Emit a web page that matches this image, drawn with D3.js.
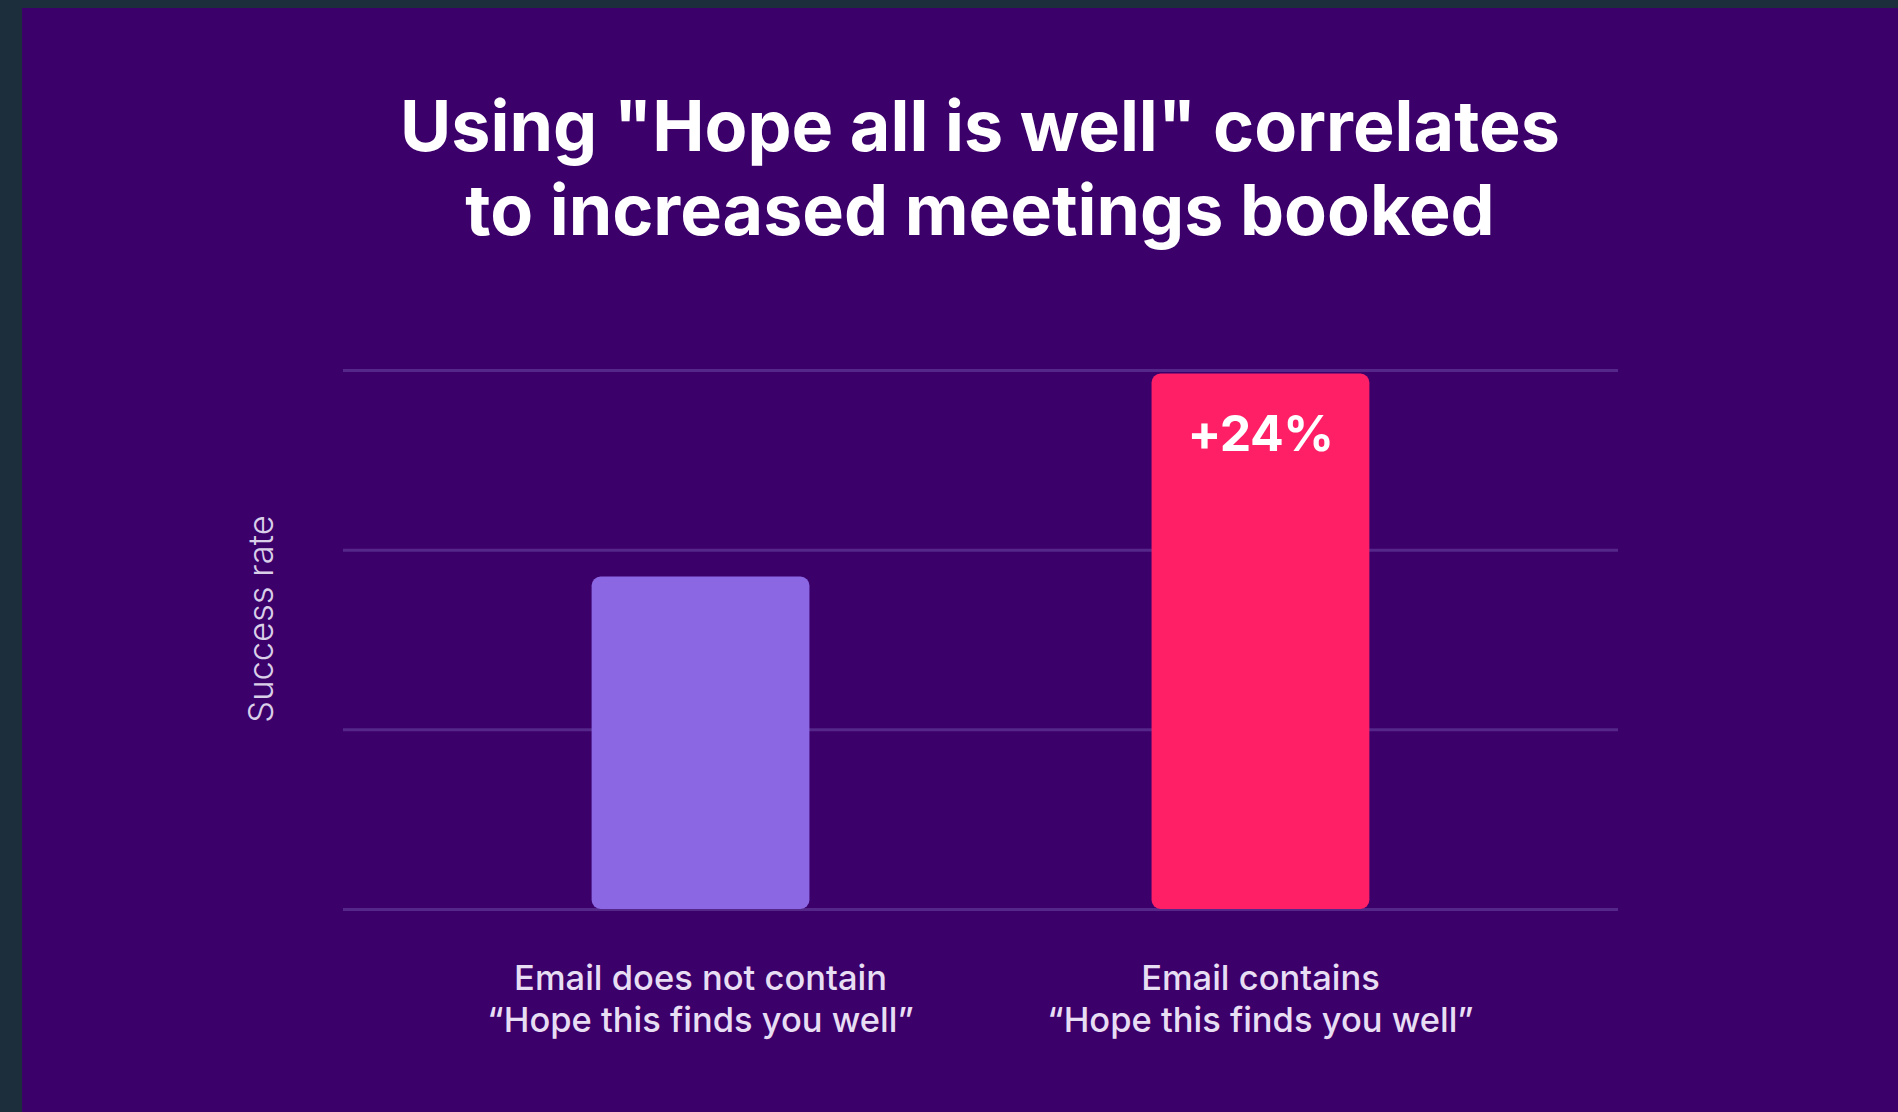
<!DOCTYPE html>
<html>
<head>
<meta charset="utf-8">
<script src="https://cdn.jsdelivr.net/npm/d3@7"></script>
<style>
  html, body { margin: 0; padding: 0; background: #1c2e3b; overflow: hidden; }
  svg { display: block; }
</style>
</head>
<body>
<div id="grafica"></div>
<script>
// datos del grafico
var titulo = ['Using "Hope all is well" correlates', "to increased meetings booked"]
var categorias = ["no", "si"]
var etiquetas = [
    ["Email does not contain", "\u201CHope this finds you well\u201D"],
    ["Email contains", "\u201CHope this finds you well\u201D"]
]
var valores = [1.85, 2.98]
var colores = ["#8b67e3", "#fe1f67"]
var anotacion = ["", "+24%"]
var ticksY = [0, 1, 2, 3]
var tituloY = "Success rate"

var width = 1898
var height = 1112

var svg = d3.select("#grafica")
    .append("svg")
    .attr("width", width)
    .attr("height", height)

// marco oscuro y fondo morado
svg.append("rect")
    .attr("width", width).attr("height", height)
    .attr("fill", "#1c2e3b")
svg.append("rect")
    .attr("x", 22).attr("y", 8)
    .attr("width", width - 22).attr("height", height - 8)
    .attr("fill", "#3c006b")

var margin = {top: 370, bottom: 909, left: 343, right: 1618}

var x = d3.scaleBand()
    .domain(categorias)
    .range([margin.left, margin.right])
    .paddingInner(0.611)
    .paddingOuter(0.444)

var y = d3.scaleLinear()
    .domain([0, 3])
    .range([margin.bottom, margin.top])

// lineas de la rejilla
svg.append("g")
    .attr("transform", "translate(" + margin.left + ",0)")
    .call(d3.axisLeft(y).tickValues(ticksY).tickSize(-(margin.right - margin.left)).tickFormat(""))
    .call(g => g.select(".domain").remove())
    .call(g => g.selectAll(".tick line")
        .attr("stroke", "#55278a")
        .attr("stroke-width", 3))

// barras
svg.append("g")
    .selectAll("rect")
    .data(valores)
    .join("rect")
    .attr("x", (d, i) => x(categorias[i]))
    .attr("y", d => y(d))
    .attr("width", x.bandwidth())
    .attr("height", d => y(0) - y(d))
    .attr("rx", 9)
    .attr("fill", (d, i) => colores[i])

// ajusta el tamaño de letra para llegar a un ancho dado
function ajustar(sel, ancho) {
    var w = sel.node().getComputedTextLength()
    var fs = parseFloat(sel.attr("font-size"))
    sel.attr("font-size", fs * ancho / w)
}

// anotacion dentro de la barra
svg.append("g")
    .selectAll("text")
    .data(valores)
    .join("text")
    .attr("x", (d, i) => x(categorias[i]) + x.bandwidth() / 2)
    .attr("y", d => y(d) + 77)
    .attr("text-anchor", "middle")
    .attr("font-family", "Inter, 'Open Sans', sans-serif")
    .attr("font-weight", 700)
    .attr("font-size", 50)
    .attr("letter-spacing", -0.5)
    .attr("fill", "white")
    .text((d, i) => anotacion[i])

// etiquetas de categorias
etiquetas.forEach(function(lineas, i) {
    lineas.forEach(function(t, j) {
        svg.append("text")
            .attr("x", x(categorias[i]) + x.bandwidth() / 2)
            .attr("y", 990 + j * 42)
            .attr("text-anchor", "middle")
            .attr("font-family", "Inter, 'Open Sans', sans-serif")
            .attr("font-weight", 500)
            .attr("font-size", 34.5)
            .attr("fill", "#e8def4")
            .text(t)
    })
})

// titulo del eje Y
svg.append("text")
    .attr("transform", "translate(273,619) rotate(-90)")
    .attr("text-anchor", "middle")
    .attr("font-family", "Inter, 'Open Sans', sans-serif")
    .attr("font-weight", 300)
    .attr("font-size", 34.5)
    .attr("fill", "#d9cfe8")
    .text(tituloY)

// titulo
var t1 = svg.append("text")
    .attr("x", 980).attr("y", 151)
    .attr("text-anchor", "middle")
    .attr("font-family", "Inter, 'Open Sans', sans-serif")
    .attr("font-weight", 700)
    .attr("font-size", 72)
    .attr("fill", "white")
    .text(titulo[0])
ajustar(t1, 1160)
svg.append("text")
    .attr("x", 980).attr("y", 235)
    .attr("text-anchor", "middle")
    .attr("font-family", "Inter, 'Open Sans', sans-serif")
    .attr("font-weight", 700)
    .attr("font-size", t1.attr("font-size"))
    .attr("fill", "white")
    .text(titulo[1])
</script>
</body>
</html>
